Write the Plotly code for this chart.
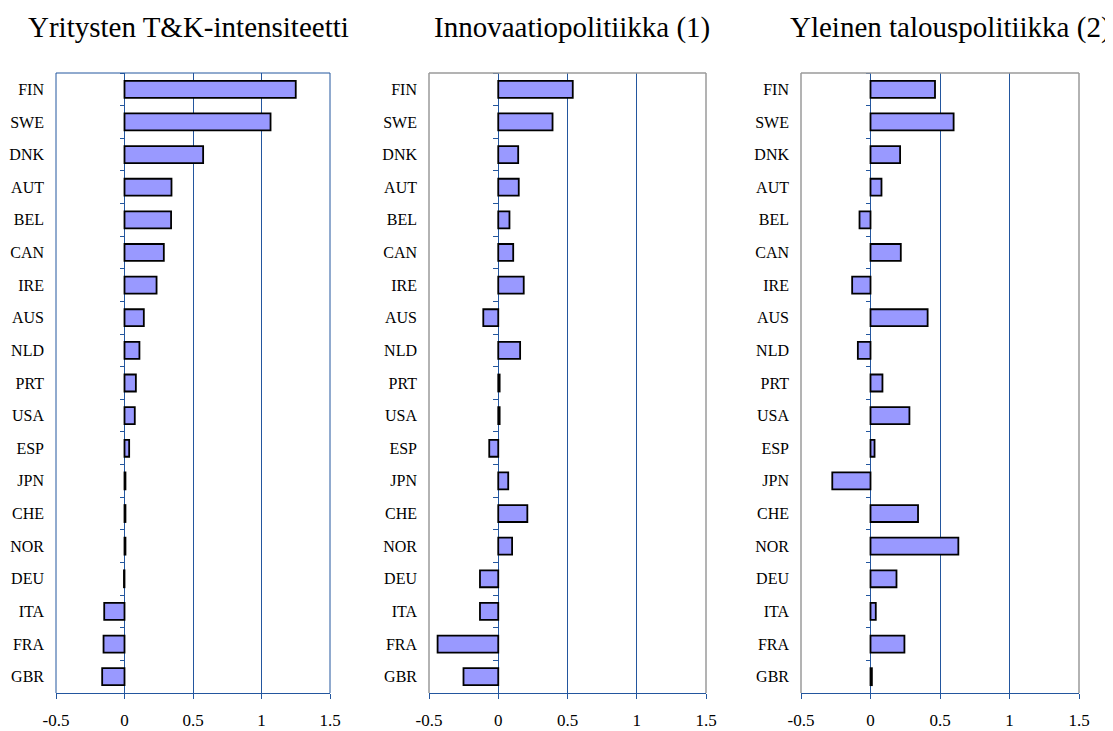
import plotly.graph_objects as go

countries = ["FIN", "SWE", "DNK", "AUT", "BEL", "CAN", "IRE", "AUS", "NLD", "PRT",
             "USA", "ESP", "JPN", "CHE", "NOR", "DEU", "ITA", "FRA", "GBR"]

titles = ["Yritysten T&K-intensiteetti", "Innovaatiopolitiikka (1)", "Yleinen talouspolitiikka (2)"]

rd_intensity = [1.25, 1.066, 0.574, 0.343, 0.34, 0.287, 0.234, 0.141, 0.109, 0.083,
                0.075, 0.034, 0.007, 0.007, 0.007, -0.004, -0.148, -0.153, -0.163]
innovation_policy = [0.538, 0.392, 0.144, 0.148, 0.081, 0.108, 0.184, -0.108, 0.158, 0.01,
                     0.01, -0.065, 0.072, 0.21, 0.10, -0.132, -0.132, -0.438, -0.251]
economic_policy = [0.464, 0.598, 0.213, 0.079, -0.079, 0.218, -0.132, 0.411, -0.091, 0.086,
                   0.28, 0.029, -0.275, 0.342, 0.632, 0.187, 0.038, 0.244, 0.01]

x_ticks = [-0.5, 0, 0.5, 1, 1.5]
x_tick_labels = ["-0.5", "0", "0.5", "1", "1.5"]
x_range = [-0.5, 1.5]

series = [rd_intensity, innovation_policy, economic_policy]

# the page body adds an 8 px offset; the figure is sized to fill the rest of the window
OFF = 8
W, H = 1113 - OFF, 731 - OFF
panels_px = [(56, 330), (429, 706), (801, 1079)]
top_px, bottom_px = 73, 693
title_centers_px = [188.5, 572, 950]
frame_colors = ["#23569e", "#9a9a9a", "#9a9a9a"]
blue = "#23569e"
font_family = "Liberation Serif, Times New Roman, serif"

fig = go.Figure()
ydom = [1 - (bottom_px - OFF) / H, 1 - (top_px - OFF) / H]

for i, vals in enumerate(series):
    n = i + 1
    xs = "" if n == 1 else str(n)
    xa, ya, yt = "x" + xs, "y" + xs, "y" + str(n + 3)
    fig.add_trace(go.Bar(
        x=vals, y=countries, orientation="h", xaxis=xa, yaxis=ya,
        marker=dict(color="#9999ff", line=dict(color="#000000", width=1.8)),
        width=0.52, hoverinfo="x+y", showlegend=False,
    ))
    # invisible trace carrying the boundary tick marks at x = 0
    fig.add_trace(go.Scatter(
        x=[0] * len(countries), y=countries, xaxis=xa, yaxis=yt, mode="markers",
        marker=dict(opacity=0), hoverinfo="skip", showlegend=False,
    ))
    x0, x1 = panels_px[i]
    xdom = [(x0 - OFF) / W, (x1 - OFF) / W]
    zero_frac = xdom[0] + (0 - x_range[0]) / (x_range[1] - x_range[0]) * (xdom[1] - xdom[0])
    fig.layout["xaxis" + xs] = dict(
        domain=xdom, range=x_range, anchor=ya, tickmode="array", automargin=False,
        tickvals=x_ticks, ticktext=x_tick_labels, showgrid=True, gridcolor=blue,
        gridwidth=1, zeroline=True, zerolinecolor=blue, zerolinewidth=1,
        showline=True, linecolor=blue, linewidth=1, ticks="outside", ticklen=5,
        tickcolor=blue, tickwidth=1, ticklabelstandoff=7,
        tickfont=dict(family=font_family, size=17, color="#000000"), fixedrange=True,
    )
    fig.layout["yaxis" + xs] = dict(
        domain=ydom, anchor=xa, type="category", categoryorder="array", automargin=False,
        categoryarray=countries, range=[len(countries) - 0.5, -0.5],
        showgrid=False, zeroline=False, showline=False, ticks="",
        ticklabelstandoff=11,
        tickfont=dict(family=font_family, size=16, color="#000000"), fixedrange=True,
    )
    fig.layout["yaxis" + str(n + 3)] = dict(
        domain=ydom, overlaying=ya, anchor="free", position=zero_frac, side="left",
        type="category", categoryorder="array", categoryarray=countries, automargin=False,
        range=[len(countries) - 0.5, -0.5], showgrid=False, zeroline=False,
        showline=False, ticks="outside", tickson="boundaries", ticklen=5,
        tickcolor=blue, tickwidth=1, showticklabels=False, fixedrange=True,
    )
    fc = frame_colors[i]
    dref = xa + " domain"
    yref = ya + " domain"
    for (ax0, ay0, ax1, ay1) in [(0, 0, 0, 1), (0, 1, 1, 1), (1, 0, 1, 1)]:
        fig.add_shape(type="line", xref=dref, yref=yref, x0=ax0, y0=ay0, x1=ax1, y1=ay1,
                      line=dict(color=fc, width=1.5 if i > 0 else 1), layer="above")
    fig.add_annotation(
        text=titles[i], xref="paper", yref="paper", x=(title_centers_px[i] - OFF) / W,
        y=1 - (27 - OFF) / H, xanchor="center", yanchor="middle", showarrow=False,
        font=dict(family=font_family, size=29, color="#000000"),
    )

fig.update_layout(
    width=W, height=H, margin=dict(l=0, r=0, t=0, b=0, autoexpand=False),
    paper_bgcolor="#ffffff", plot_bgcolor="#ffffff", bargap=0.48,
)

fig.write_html("out.html")
